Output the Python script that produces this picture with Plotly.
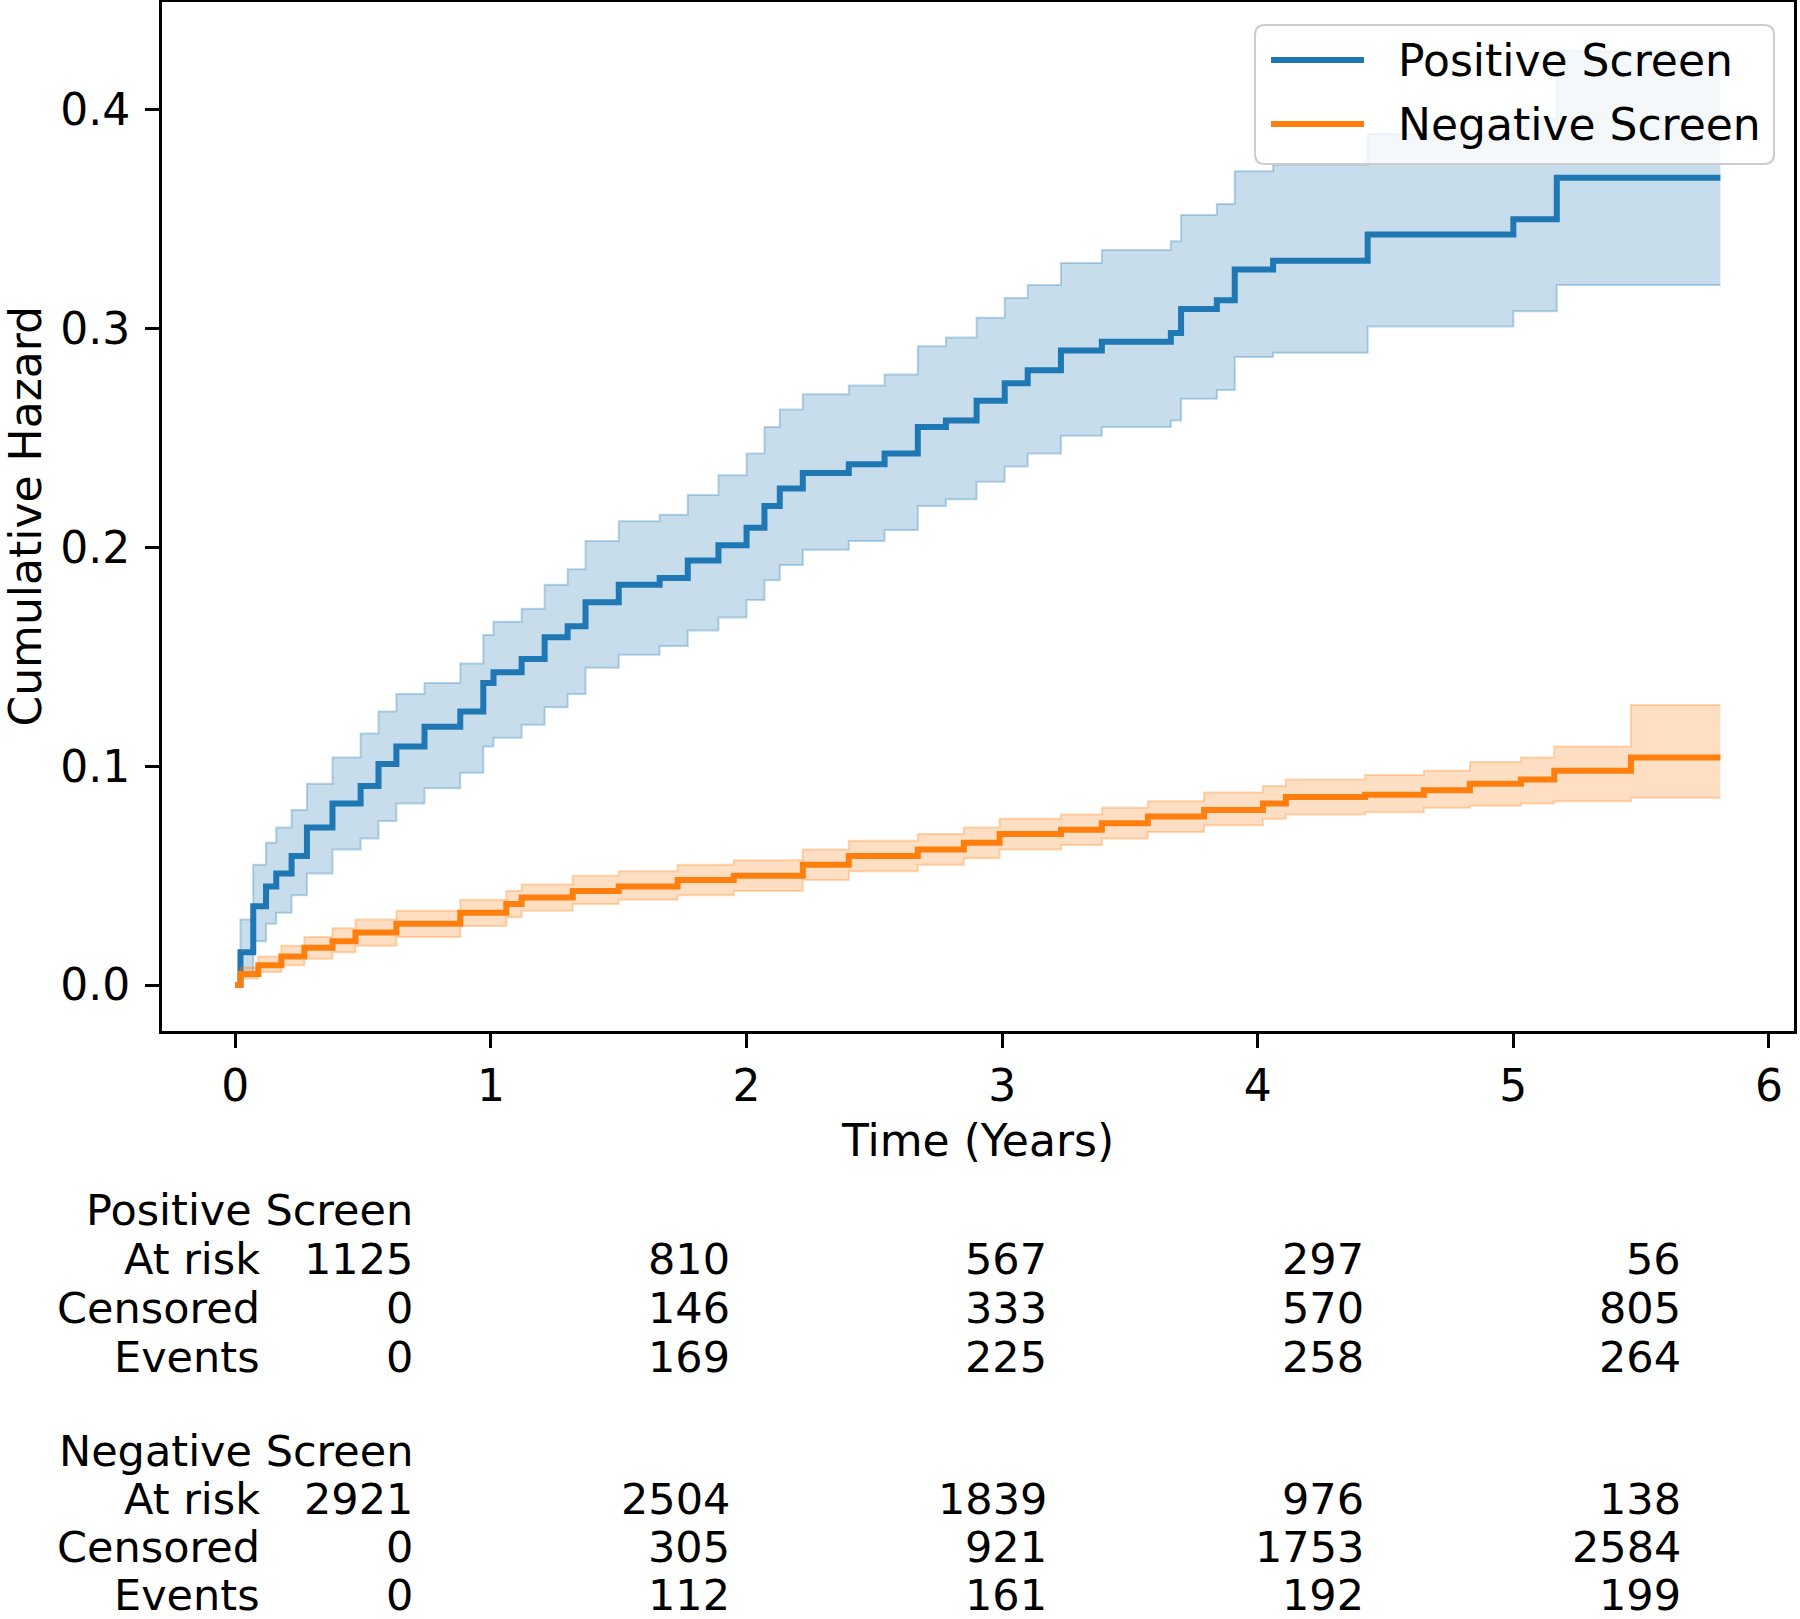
import plotly.graph_objects as go

# ---- data ----
years = [0, 1, 2, 3, 4, 5, 6]
hazard_ticks = [0.0, 0.1, 0.2, 0.3, 0.4]

pos_time = [0, 0.02, 0.07, 0.12, 0.16, 0.22, 0.28, 0.38, 0.49, 0.56, 0.63, 0.74,
            0.88, 0.97, 1.01, 1.12, 1.21, 1.30, 1.37, 1.50, 1.66, 1.77, 1.89,
            2.00, 2.07, 2.13, 2.22, 2.40, 2.54, 2.67, 2.78, 2.90, 3.01, 3.10,
            3.23, 3.39, 3.66, 3.70, 3.84, 3.91, 4.06, 4.43, 5.00, 5.17, 5.81]
pos_hazard = [0, 0.015, 0.036, 0.045, 0.051, 0.059, 0.072, 0.083, 0.091, 0.101,
              0.109, 0.118, 0.125, 0.138, 0.143, 0.149, 0.159, 0.164, 0.175,
              0.183, 0.186, 0.194, 0.201, 0.209, 0.219, 0.227, 0.234, 0.238,
              0.243, 0.255, 0.258, 0.267, 0.275, 0.281, 0.290, 0.294, 0.298,
              0.309, 0.313, 0.327, 0.331, 0.343, 0.350, 0.369, 0.369]
pos_upper = [0, 0.030, 0.055, 0.065, 0.072, 0.080, 0.092, 0.104, 0.115, 0.125,
             0.133, 0.138, 0.147, 0.160, 0.166, 0.172, 0.183, 0.190, 0.203,
             0.212, 0.215, 0.224, 0.233, 0.243, 0.255, 0.263, 0.270, 0.274,
             0.279, 0.292, 0.296, 0.305, 0.314, 0.320, 0.330, 0.336, 0.340,
             0.352, 0.357, 0.372, 0.375, 0.389, 0.396, 0.427, 0.427]
pos_lower = [0, 0.004, 0.020, 0.028, 0.033, 0.041, 0.051, 0.062, 0.067, 0.075,
             0.083, 0.090, 0.097, 0.109, 0.113, 0.119, 0.127, 0.133, 0.145,
             0.151, 0.155, 0.162, 0.168, 0.176, 0.185, 0.192, 0.199, 0.203,
             0.208, 0.219, 0.222, 0.230, 0.237, 0.243, 0.251, 0.255, 0.258,
             0.268, 0.272, 0.287, 0.289, 0.301, 0.308, 0.320, 0.320]

neg_time = [0, 0.02, 0.09, 0.18, 0.27, 0.38, 0.47, 0.63, 0.88, 1.06, 1.12, 1.32,
            1.50, 1.73, 1.95, 2.22, 2.40, 2.67, 2.85, 2.99, 3.23, 3.39, 3.57,
            3.79, 4.02, 4.11, 4.42, 4.65, 4.83, 5.03, 5.16, 5.46, 5.81]
neg_hazard = [0, 0.005, 0.009, 0.013, 0.017, 0.020, 0.024, 0.028, 0.033, 0.037,
              0.040, 0.043, 0.045, 0.048, 0.050, 0.055, 0.059, 0.062, 0.065,
              0.069, 0.071, 0.074, 0.077, 0.080, 0.083, 0.086, 0.087, 0.089,
              0.092, 0.094, 0.098, 0.104, 0.104]
neg_upper = [0, 0.008, 0.013, 0.018, 0.022, 0.026, 0.030, 0.034, 0.039, 0.043,
             0.046, 0.050, 0.052, 0.055, 0.057, 0.062, 0.066, 0.069, 0.072,
             0.076, 0.078, 0.081, 0.084, 0.088, 0.091, 0.094, 0.096, 0.098,
             0.102, 0.104, 0.109, 0.128, 0.128]
neg_lower = [0, 0.003, 0.006, 0.009, 0.012, 0.015, 0.018, 0.022, 0.027, 0.031,
             0.034, 0.037, 0.039, 0.041, 0.043, 0.048, 0.052, 0.055, 0.058,
             0.062, 0.064, 0.067, 0.070, 0.073, 0.076, 0.078, 0.079, 0.081,
             0.082, 0.083, 0.084, 0.0856, 0.0856]

groups = ["Positive Screen", "Negative Screen"]
row_labels = ["At risk", "Censored", "Events"]
pos_at_risk = [1125, 810, 567, 297, 56]
pos_censored = [0, 146, 333, 570, 805]
pos_events = [0, 169, 225, 258, 264]
neg_at_risk = [2921, 2504, 1839, 976, 138]
neg_censored = [0, 305, 921, 1753, 2584]
neg_events = [0, 112, 161, 192, 199]

# ---- styling / layout constants ----
W, H = 1800, 1619
L, R, T, B = 162, 1794, 2, 1031          # plot area in pixels
FONT = "DejaVu Sans"
FS = 44
FS_TABLE = 43
BLUE, ORANGE = "#1f77b4", "#ff7f0e"


def px(x):
    return (x - L) / (R - L)


def py(y):
    return (B - y) / (B - T)


fig = go.Figure()


def add_group(t, h, lo, hi, color, rgb):
    fig.add_trace(go.Scatter(
        x=t, y=lo, mode="lines", line=dict(color="rgba(%s,0.3)" % rgb, width=2, shape="hv"),
        showlegend=False, hoverinfo="skip",
    ))
    fig.add_trace(go.Scatter(
        x=t, y=hi, mode="lines", line=dict(color="rgba(%s,0.3)" % rgb, width=2, shape="hv"),
        fill="tonexty", fillcolor="rgba(%s,0.25)" % rgb,
        showlegend=False, hoverinfo="skip",
    ))
    fig.add_trace(go.Scatter(
        x=t, y=h, mode="lines", line=dict(color=color, width=6, shape="hv"),
        showlegend=False,
    ))


add_group(pos_time, pos_hazard, pos_lower, pos_upper, BLUE, "31,119,180")
add_group(neg_time, neg_hazard, neg_lower, neg_upper, ORANGE, "255,127,14")

# ---- legend drawn by hand (matplotlib style) ----
lx0, lx1, ly0, ly1, rad = 1255, 1774, 25, 164, 10
rx, ry = rad / (R - L), rad / (B - T)
a, b, c, d = px(lx0), px(lx1), py(ly1), py(ly0)
path = ("M {a0},{c} L {b0},{c} Q {b},{c} {b},{c0} L {b},{d0} Q {b},{d} {b0},{d} "
        "L {a0},{d} Q {a},{d} {a},{d0} L {a},{c0} Q {a},{c} {a0},{c} Z").format(
    a=a, b=b, c=c, d=d, a0=a + rx, b0=b - rx, c0=c + ry, d0=d - ry)
fig.add_shape(type="path", path=path, xref="paper", yref="paper", layer="above",
              fillcolor="rgba(255,255,255,0.8)", line=dict(color="#cccccc", width=2))
for name, color, yy in [(groups[0], BLUE, 60), (groups[1], ORANGE, 124)]:
    fig.add_shape(type="line", xref="paper", yref="paper", layer="above",
                  x0=px(1271), x1=px(1364), y0=py(yy), y1=py(yy),
                  line=dict(color=color, width=6))
    fig.add_annotation(x=px(1396), y=py(yy), xref="paper", yref="paper", text=name,
                       showarrow=False, xanchor="left", yanchor="middle",
                       font=dict(family=FONT, size=FS, color="black"))

# ---- axis titles ----
fig.add_annotation(x=px(977), y=py(1140), xref="paper", yref="paper", text="Time (Years)",
                   showarrow=False, xanchor="center", yanchor="middle",
                   font=dict(family=FONT, size=FS, color="black"))
fig.add_annotation(x=px(25), y=0.5, xref="paper", yref="paper", text="Cumulative Hazard",
                   textangle=-90, showarrow=False, xanchor="center", yanchor="middle",
                   font=dict(family=FONT, size=FS, color="black"))

# ---- at-risk table ----
col_x = [415, 732, 1049, 1366, 1683]
label_x = 262
blocks = [
    (groups[0], 1210, [1259, 1308, 1357], [pos_at_risk, pos_censored, pos_events]),
    (groups[1], 1451, [1499, 1547, 1595], [neg_at_risk, neg_censored, neg_events]),
]
tfont = dict(family=FONT, size=FS_TABLE, color="black")
for title, ty, rows_y, rows in blocks:
    fig.add_annotation(x=px(col_x[0]), y=py(ty), xref="paper", yref="paper", text=title,
                       showarrow=False, xanchor="right", yanchor="middle", font=tfont)
    for lab, ry_, vals in zip(row_labels, rows_y, rows):
        fig.add_annotation(x=px(label_x), y=py(ry_), xref="paper", yref="paper", text=lab,
                           showarrow=False, xanchor="right", yanchor="middle", font=tfont)
        for cx, v in zip(col_x, vals):
            fig.add_annotation(x=px(cx), y=py(ry_), xref="paper", yref="paper", text=str(v),
                               showarrow=False, xanchor="right", yanchor="middle",
                               font=tfont)

axis_common = dict(
    showline=True, linecolor="black", linewidth=3, mirror=True,
    ticks="outside", ticklen=14, tickwidth=3, tickcolor="black",
    showgrid=False, zeroline=False,
    tickfont=dict(family=FONT, size=FS, color="black"),
)
fig.update_xaxes(range=[-0.287, 6.098], tickvals=years, **axis_common)
fig.update_yaxes(range=[-0.021, 0.4493], tickvals=hazard_ticks, tickformat=".1f",
                 ticklabelstandoff=6, **axis_common)

fig.update_layout(
    width=W, height=H,
    margin=dict(l=L, r=W - R, t=T, b=H - B, autoexpand=False),
    plot_bgcolor="white", paper_bgcolor="white",
    showlegend=False,
    font=dict(family=FONT, size=FS, color="black"),
)

# drop the browser's default body margin so the figure sits at the page corner
fig.write_html("out.html", config={"displayModeBar": False},
               post_script="document.body.style.margin='0';")
